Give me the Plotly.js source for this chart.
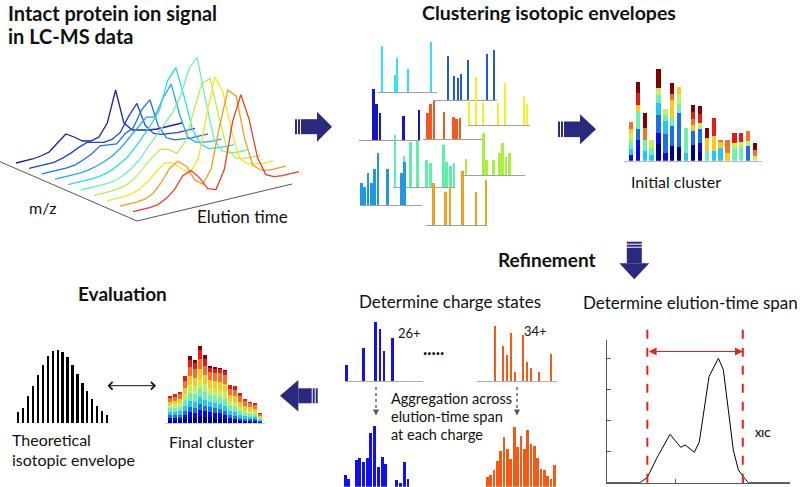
<!DOCTYPE html>
<html><head><meta charset="utf-8">
<script src="https://cdn.plot.ly/plotly-3.0.1.min.js"></script>
<style>html,body{margin:0;padding:0;background:#fff;}#chart{width:800px;height:487px;}</style>
</head><body><div id="chart"></div>
<script>
// ================= DATA =================
// 3-D LC-MS ion signal: one intensity profile per m/z trace, sampled along elution time
const elutionTime = [0,0.05,0.1,0.15,0.2,0.25,0.3,0.35,0.4,0.45,0.5,0.55,0.6,0.65,0.7,0.75,0.8,0.85,0.9,0.95,1];
const signal0 = [0,0,0,1,3,10,17,12,6,4,6,18,49,14,5,3,1,0,0,0,0];
const signal1 = [0,0,0,0,2,5,9,12,10,8,9,14,28,39,15,5,2,1,0,0,0];
const signal2 = [0,0,0,0,1,4,8,14,13,12,20,24,40,48,20,6,2,1,0,0,0];
const signal3 = [0,0,0,0,1,3,6,10,16,24,32,40,38,55,67,35,10,3,1,0,0];
const signal4 = [0,0,0,0,1,3,7,12,20,30,40,52,80,91,60,25,8,2,1,0,0];
const signal5 = [0,0,0,0,1,4,9,16,26,36,46,55,70,95,105,60,20,5,1,0,0];
const signal6 = [0,0,0,1,3,8,16,24,30,28,22,32,60,86,89,50,15,4,1,0,0];
const signal7 = [0,0,0,1,4,10,18,24,22,14,8,20,62,98,80,40,10,3,1,0,0];
const signal8 = [0,0,0,1,5,14,26,31,24,8,2,16,56,90,82,38,9,2,0,0,0];
const signal9 = [0,0,0,1,5,12,24,27,18,5,2,20,66,91,64,24,5,1,0,0,0];
const signals = [signal0,signal1,signal2,signal3,signal4,signal5,signal6,signal7,signal8,signal9];

// Clustering isotopic envelopes: m/z offset and intensity of each envelope
const envA_mz = [4,17,19,30,53],            envA_int = [46,17,34,23,50];
const envB_mz = [15,21,25,28,35,54,61],     envB_int = [44,24,22,26,40,46,50];
const envC_mz = [14.3,17.7,21,44.3,60.3],   envC_int = [51,36,27,24,30];
const envD_mz = [4.3,7.7,11,21,30.3,33.7,37], envD_int = [26,35,38,27,22,20,21];
const envE_mz = [1,8,15,30,37,56,59],       envE_int = [25,48,22,22,42,29,21];
const envF_mz = [3,20.3,23.7,30.3,36.3,39.7,43,46.3], envF_int = [16,42,15,15,22,32,18,22];
const envG_mz = [2,11,17.7,24.3,33.7,37.7,50.3,53.7,57.7,61], envG_int = [52,31,45,46,27,24,42,25,21,24];
const envH_mz = [1.3,4.7,8,11.3,14.7,18,27.7,41.3,44.7], envH_int = [22,18,32,22,36,52,36,32,43];
const envI_mz = [7.3,19.7,24,36.7,50,60],   envI_int = [42,33,38,54,33,45];

// Initial cluster (stacked contributions per isotopic peak)
const initPeak = [1,2,3,4,5,6,7,8,9,10,11,12,13,14,15,16,17,18,19];
const init_navy    = [0,0,0,0,17,0,15,14,0,16,9,0,0,0,0,0,0,0,0];
const init_blue    = [6,21,0,0,11,8,0,0,0,0,9,0,0,0,0,0,0,0,0];
const init_mblue   = [0,11,0,0,18,19,20,34,0,14,14,0,0,0,0,0,0,15,0];
const init_cyan    = [6,0,10,6,12,13,0,0,8,0,0,0,10,13,0,0,0,0,0];
const init_aqua    = [8,17,11,7,8,6,8,9,25,0,0,10,0,0,0,12,14,0,0];
const init_lime    = [8,0,0,8,7,6,0,10,0,0,6,0,0,0,0,6,5,5,5];
const init_yellow  = [4,7,0,0,0,0,18,7,0,6,0,13,15,6,8,0,0,0,0];
const init_orange  = [7,0,12,0,0,0,6,0,0,6,0,0,0,2,13,0,0,10,6];
const init_red     = [0,12,0,0,0,0,0,0,0,7,9,0,18,0,0,10,9,0,0];
const init_darkred = [0,11,15,0,19,0,11,0,0,7,8,10,0,0,0,0,0,0,7];

// Final cluster
const finalPeak = [1,2,3,4,5,6,7,8,9,10,11,12,13,14,15,16,17,18,19];
const fin_navy    = [2,2,2,4,6,5,7,6,6,5,5,4,2,2,1,1,1,1,0];
const fin_blue    = [3,3,3,4,5,5,6,6,5,5,5,4,3,2,2,1,1,1,1];
const fin_mblue   = [3,3,3,4,5,5,6,5,5,5,4,4,3,3,2,2,2,2,1];
const fin_cyan    = [3,3,4,5,6,6,7,6,5,5,5,5,4,4,3,3,2,2,1];
const fin_aqua    = [4,4,4,6,8,8,9,8,7,7,7,7,5,5,4,3,3,3,1];
const fin_lime    = [3,4,4,6,8,8,9,8,7,7,7,7,5,5,4,3,3,2,1];
const fin_yellow  = [3,3,4,6,9,8,10,9,8,8,8,8,6,6,5,4,4,3,2];
const fin_orange  = [4,4,5,7,9,9,10,9,8,8,9,9,6,6,6,5,4,4,2];
const fin_red     = [2,3,2,5,7,6,9,7,4,4,4,4,4,4,3,2,1,2,1];
const fin_darkred = [0,0,0,0,4,3,4,4,2,2,1,1,0,0,0,0,0,0,0];

// Theoretical isotopic envelope
const theoPeak = [1,2,3,4,5,6,7,8,9,10,11,12,13,14,15,16,17,18,19];
const theoInt  = [10.7,15,26.7,37.3,48.3,58.3,66.7,71.7,73.3,71,66,58.3,49,40,31.7,24,17.3,11.7,8.3];

// Charge states (single scan) 26+ and 34+
const z26_iso = [0,4,7,8,9,11];
const z26_int = [16.5,33,59,52.5,30.5,43];
const z34_iso = [0,2,3,4,5,7,8,9,11,14];
const z34_int = [55,35,26,48.3,8.7,46,19.3,13.3,8.7,26.7];

// Aggregated across elution-time span
const agg26_iso = [0,1,3,4,5,6,7,8,9,10,11,14,15,16,17];
const agg26_int = [11.5,7.5,26.7,29,25,28.3,54,61,20,29.5,22.5,7,3.5,24.5,7.5];
const agg34_iso = [0,1,2,3,4,5,6,7,8,9,10,11,12,13,14,15,16,17,18,19,20];
const agg34_int = [10,11.7,16.7,26,36,49.3,37.7,27.7,60,39.3,51,37.7,57,42.7,41,28.7,17.7,16.7,10.3,7.7,22];

// XIC
const xicTime = [0,0.485,0.593,0.731,0.926,1.084,1.147,1.284,1.357,1.5,1.637,1.71,1.857,1.931,2.004,2.078,2.69];
const xicInt  = [0,0,0.17,0.79,1.56,1.14,1.22,0.98,1.32,3.42,4.01,3.64,1.05,0.41,0.19,0,0];
const spanStart = 0.593, spanEnd = 1.996;

// ================= STYLE / LAYOUT =================
const W = 800, H = 487;
const FONT = 'Lato, "Open Sans", sans-serif';
const jet = {navy:'#00008b', blue:'#0a0ae6', mblue:'#1c6ee8', cyan:'#22c8f0', aqua:'#70f0b0',
             lime:'#c4f05a', yellow:'#fcc820', orange:'#f87028', red:'#e81818', darkred:'#800000'};
const traceColors = ['#1f1f9f','#2040d8','#1f70e8','#22a8ee','#25dcf0','#6ef0b0','#b4f050','#eee820','#f59a20','#e8401c'];
const NAVY = '#29297d';

const layout = {width:W, height:H, margin:{l:0,r:0,t:0,b:0}, paper_bgcolor:'#ffffff',
  plot_bgcolor:'rgba(0,0,0,0)', showlegend:false, barmode:'stack', font:{family:FONT, color:'#111'},
  shapes:[], annotations:[]};
const data = [];
let nAx = 0;
function addAxes(px0, px1, pyTop, pyBot, xr, yr, xopt, yopt){
  nAx++; const s = nAx === 1 ? '' : String(nAx);
  const base = {visible:false, fixedrange:true, showgrid:false, zeroline:false, showticklabels:false, ticks:''};
  layout['xaxis'+s] = Object.assign({}, base, {domain:[px0/W, px1/W], range:xr, anchor:'y'+s}, xopt||{});
  layout['yaxis'+s] = Object.assign({}, base, {domain:[1-pyBot/H, 1-pyTop/H], range:yr, anchor:'x'+s}, yopt||{});
  return {xaxis:'x'+s, yaxis:'y'+s};
}
const baseLine = (c)=>({visible:true, showline:true, linecolor:c||'#a8a8a8', linewidth:1, showticklabels:false, ticks:''});
const px = x => x/W, py = y => 1 - y/H;

// ---- 3D waterfall (projected) ----
const ax3d = addAxes(0, W, 0, H, [0, W], [H, 0]);
const proj = {x0:16, y0:163, dxMz:13, dyMz:5.4, dxT:166, dyT:-40, z:1};
signals.forEach((sig, i) => {
  data.push({type:'scatter', mode:'lines', hoverinfo:'skip', xaxis:ax3d.xaxis, yaxis:ax3d.yaxis,
    x: elutionTime.map(t => proj.x0 + i*proj.dxMz + t*proj.dxT),
    y: sig.map((v,k) => proj.y0 + i*proj.dyMz + elutionTime[k]*proj.dyT - v*proj.z),
    line:{color:traceColors[i], width:1.3}});
});
layout.shapes.push({type:'line', xref:'paper', yref:'paper', x0:px(0), y0:py(161.7), x1:px(137), y1:py(221), line:{color:'#555', width:1}});
layout.shapes.push({type:'line', xref:'paper', yref:'paper', x0:px(137), y0:py(221), x1:px(292), y1:py(184), line:{color:'#555', width:1}});

// ---- clustering envelopes ----
const envs = [
  {mz:envA_mz, v:envA_int, c:'#30e4f0', x0:378, x1:437, b:92},
  {mz:envB_mz, v:envB_int, c:'#2058e0', x0:433, x1:497, b:100},
  {mz:envC_mz, v:envC_int, c:'#1414c8', x0:359, x1:420, b:140},
  {mz:envD_mz, v:envD_int, c:'#f05a20', x0:423, x1:483, b:139},
  {mz:envE_mz, v:envE_int, c:'#f4f022', x0:468, x1:530, b:125},
  {mz:envF_mz, v:envF_int, c:'#a8f040', x0:463, x1:525, b:175},
  {mz:envG_mz, v:envG_int, c:'#5cf0a8', x0:393, x1:455, b:187},
  {mz:envH_mz, v:envH_int, c:'#2098e8', x0:360, x1:422, b:205},
  {mz:envI_mz, v:envI_int, c:'#f0a020', x0:426, x1:487, b:225}
];
envs.forEach(e => {
  const a = addAxes(e.x0, e.x1, e.b-60, e.b, [0, e.x1-e.x0], [0, 60], baseLine('#a0a0a0'));
  data.push({type:'bar', x:e.mz, y:e.v, width:2.6, marker:{color:e.c, line:{width:0}}, hoverinfo:'skip', xaxis:a.xaxis, yaxis:a.yaxis});
});

// ---- initial cluster ----
const axInit = addAxes(624, 762, 65.7, 160.7, [0, 20], [0, 95], baseLine('#b4bccc'));
[[init_navy,'navy'],[init_blue,'blue'],[init_mblue,'mblue'],[init_cyan,'cyan'],[init_aqua,'aqua'],[init_lime,'lime'],
 [init_yellow,'yellow'],[init_orange,'orange'],[init_red,'red'],[init_darkred,'darkred']].forEach(([arr,k]) => {
  data.push({type:'bar', x:initPeak, y:arr, width:0.62, marker:{color:jet[k], line:{width:0}}, hoverinfo:'skip', xaxis:axInit.xaxis, yaxis:axInit.yaxis});
});

// ---- final cluster ----
const axFin = addAxes(165, 265, 343, 423, [0, 20], [0, 80], baseLine('#c8d0e0'));
[[fin_navy,'navy'],[fin_blue,'blue'],[fin_mblue,'mblue'],[fin_cyan,'cyan'],[fin_aqua,'aqua'],[fin_lime,'lime'],
 [fin_yellow,'yellow'],[fin_orange,'orange'],[fin_red,'red'],[fin_darkred,'darkred']].forEach(([arr,k]) => {
  data.push({type:'bar', x:finalPeak, y:arr, width:0.8, marker:{color:jet[k], line:{width:0}}, hoverinfo:'skip', xaxis:axFin.xaxis, yaxis:axFin.yaxis});
});

// ---- theoretical ----
const axTheo = addAxes(13.1, 112.1, 343, 423, [0, 20], [0, 80]);
data.push({type:'bar', x:theoPeak, y:theoInt, width:0.46, marker:{color:'#000', line:{width:0}}, hoverinfo:'skip', xaxis:axTheo.xaxis, yaxis:axTheo.yaxis});

// ---- charge states ----
const ax26 = addAxes(345, 423, 316, 381, [-0.4, 18.4], [0, 65], baseLine('#b0b0b0'));
data.push({type:'bar', x:z26_iso, y:z26_int, width:0.65, marker:{color:'#1010f0', line:{width:0}}, hoverinfo:'skip', xaxis:ax26.xaxis, yaxis:ax26.yaxis});
const ax34 = addAxes(477, 557, 316, 381, [-4.5, 15.5], [0, 65], baseLine('#b0b0b0'));
data.push({type:'bar', x:z34_iso, y:z34_int, width:0.7, marker:{color:'#f55a14', line:{width:0}}, hoverinfo:'skip', xaxis:ax34.xaxis, yaxis:ax34.yaxis});

// ---- aggregated ----
const axA26 = addAxes(328, 418, 421.7, 486.7, [-4.6, 19.7], [0, 65], baseLine('#b0b0b0'));
data.push({type:'bar', x:agg26_iso, y:agg26_int, width:0.8, marker:{color:'#1010f0', line:{width:0}}, hoverinfo:'skip', xaxis:axA26.xaxis, yaxis:axA26.yaxis});
const axA34 = addAxes(470, 560, 421.7, 486.7, [-5.2, 21.7], [0, 65], baseLine('#b0b0b0'));
data.push({type:'bar', x:agg34_iso, y:agg34_int, width:0.8, marker:{color:'#f55a14', line:{width:0}}, hoverinfo:'skip', xaxis:axA34.xaxis, yaxis:axA34.yaxis});

// ---- XIC ----
const axX = addAxes(607, 790, 340, 482.7, [0, 2.69], [0, 4.6],
  {visible:true, showline:true, linecolor:'#555', linewidth:1, ticks:'inside', ticklen:4, tickcolor:'#555', dtick:1, tick0:0, showticklabels:false},
  {visible:true, showline:true, linecolor:'#555', linewidth:1, ticks:'inside', ticklen:4, tickcolor:'#555', dtick:1, tick0:0, showticklabels:false});
data.push({type:'scatter', mode:'lines', x:xicTime, y:xicInt, line:{color:'#000', width:1}, hoverinfo:'skip', xaxis:axX.xaxis, yaxis:axX.yaxis});
[spanStart, spanEnd].forEach(t => layout.shapes.push({type:'line', xref:axX.xaxis, yref:'paper', x0:t, x1:t, y0:py(482.7), y1:py(326.7),
  line:{color:'#e82020', width:2, dash:'dash'}}));
layout.annotations.push({xref:axX.xaxis, yref:axX.yaxis, axref:axX.xaxis, ayref:axX.yaxis, x:spanEnd, y:4.23, ax:spanStart, ay:4.23,
  text:'', showarrow:true, arrowside:'end+start', arrowhead:2, arrowsize:1.3, arrowwidth:1.2, arrowcolor:'#e82020', standoff:0, startstandoff:0});

// ---- big block arrows ----
function P(x,y){ return px(x).toFixed(5)+','+py(y).toFixed(5); }
function rectPath(x0,y0,x1,y1){ return 'M'+P(x0,y0)+' L'+P(x1,y0)+' L'+P(x1,y1)+' L'+P(x0,y1)+' Z'; }
function addShapePath(path){ layout.shapes.push({type:'path', xref:'paper', yref:'paper', path:path, fillcolor:NAVY, line:{width:0}}); }
function hArrow(tail, tip, yc, headStart, hb, hh){
  const dir = Math.sign(tip - tail);
  addShapePath(rectPath(tail, yc-hb, tail+dir*2, yc+hb));
  addShapePath(rectPath(tail+dir*3, yc-hb, tail+dir*5, yc+hb));
  addShapePath(rectPath(tail+dir*6, yc-hb, headStart, yc+hb));
  addShapePath('M'+P(headStart,yc-hh)+' L'+P(tip,yc)+' L'+P(headStart,yc+hh)+' Z');
}
function vArrow(tail, tip, xc, headStart, hb, hh){
  addShapePath(rectPath(xc-hb, tail, xc+hb, tail+2));
  addShapePath(rectPath(xc-hb, tail+3, xc+hb, tail+5));
  addShapePath(rectPath(xc-hb, tail+6, xc+hb, headStart));
  addShapePath('M'+P(xc-hh,headStart)+' L'+P(xc,tip)+' L'+P(xc+hh,headStart)+' Z');
}
hArrow(295, 332, 126.7, 317, 7.5, 15);
hArrow(558, 596, 129.3, 580, 7.8, 15);
vArrow(241.7, 279.3, 634.3, 263.3, 7.5, 15);
hArrow(317.7, 280, 395.8, 298.3, 7.5, 15.8);

// dotted arrows
[376, 517].forEach(x => {
  layout.shapes.push({type:'line', xref:'paper', yref:'paper', x0:px(x), x1:px(x), y0:py(387), y1:py(410), line:{color:'#666', width:1.5, dash:'dot'}});
  layout.shapes.push({type:'path', xref:'paper', yref:'paper', path:'M'+P(x-3,409.5)+' L'+P(x+3,409.5)+' L'+P(x,415.5)+' Z', fillcolor:'#555', line:{width:0}});
});

// evaluation double arrow
layout.annotations.push({xref:'paper', yref:'paper', x:px(156), y:py(385.7), axref:'pixel', ayref:'pixel', ax:-50, ay:0,
  text:'', showarrow:true, arrowside:'end+start', arrowhead:4, arrowsize:1.5, arrowwidth:1, arrowcolor:'#111', standoff:0, startstandoff:0});

// ---- texts ----
function txt(t, x, y, size, anchor, bold, color){
  layout.annotations.push({xref:'paper', yref:'paper', x:px(x), y:py(y), text: bold ? '<b>'+t+'</b>' : t,
    showarrow:false, xanchor:anchor||'center', yanchor:'middle', font:{family:FONT, size:size, color:color||'#111'}});
}
txt('Intact protein ion signal', 6, 12.5, 20, 'left', true);
txt('in LC-MS data', 6, 36.5, 20, 'left', true);
txt('Clustering isotopic envelopes', 420, 12, 19.5, 'left', true);
txt('m/z', 42, 207, 16, 'center');
txt('Elution time', 195, 216.5, 17, 'left');
txt('Initial cluster', 676, 181, 16, 'center');
txt('Refinement', 547, 259.5, 19, 'center', true);
txt('Determine charge states', 450, 301, 17, 'center');
txt('Determine elution-time span', 581, 302, 17, 'left');
txt('26+', 409.5, 333, 13, 'center');
txt('34+', 535.5, 331, 13, 'center');
txt('<b>.....</b>', 433.5, 348, 18, 'center');
txt('Aggregation across', 389, 398, 14.5, 'left');
txt('elution-time span', 389, 416.5, 14.5, 'left');
txt('at each charge', 389, 434.5, 14.5, 'left');
txt('Evaluation', 122, 293.5, 19, 'center', true);
txt('Theoretical', 10, 439.5, 16, 'left');
txt('isotopic envelope', 10, 459.5, 16, 'left');
txt('Final cluster', 211, 441, 16, 'center');
txt('XIC', 763, 433, 9.5, 'center', true);

Plotly.newPlot('chart', data, layout, {staticPlot:true, displayModeBar:false});
</script></body></html>
